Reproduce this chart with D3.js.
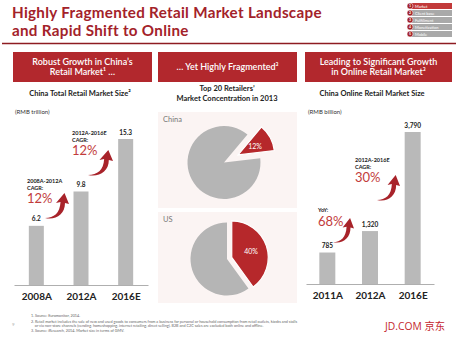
<!DOCTYPE html>
<html>
<head>
<meta charset="utf-8">
<script src="https://cdn.jsdelivr.net/npm/d3@7"></script>
<style>
  html, body { margin: 0; padding: 0; background: #fff; }
  svg { display: block; font-family: Lato, "Open Sans", sans-serif; }
</style>
</head>
<body>
<svg id="chart" width="460" height="359"></svg>
<script>
// ---------- data ----------
const titleLines = ["Highly Fragmented Retail Market Landscape", "and Rapid Shift to Online"];
const navItems = ["Market", "Client base", "Fulfillment", "Monetization", "Mobile"];

const totalCats = ["2008A", "2012A", "2016E"];
const totalValues = [6.2, 9.8, 15.3];
const totalLabels = ["6.2", "9.8", "15.3"];

const onlineCats = ["2011A", "2012A", "2016E"];
const onlineValues = [785, 1320, 3790];
const onlineLabels = ["785", "1,320", "3,790"];

const pieCountries = ["China", "US"];
const top20Share = [12, 40];          // % share of top 20 retailers
const top20Labels = ["12%", "40%"];

const footnotes = [
  "1. Source: Euromonitor, 2014.",
  "2. Retail market includes the sale of new and used goods to consumers from a business for personal or household consumption from retail outlets, kiosks and stalls",
  "    or via non-store channels (vending, homeshopping, internet retailing, direct selling). B2B and C2C sales are excluded both online and offline.",
  "3. Source: iResearch, 2014. Market size in terms of GMV."
];

// ---------- drawing ----------
const svg = d3.select("#chart");
const RED = "#b2282d", DARK_RED = "#a3222a", PCT_RED = "#c23b3b", GRAY = "#b9b9b9";

svg.append("rect").attr("width", 460).attr("height", 359).attr("fill", "#fff");

// Title
svg.selectAll("text.title").data(titleLines).join("text")
  .attr("class", "title")
  .attr("x", 12).attr("y", (d, i) => 18 + i * 18)
  .attr("fill", DARK_RED).attr("font-size", 15.2).attr("font-weight", 700)
  .attr("letter-spacing", 0.3)
  .text(d => d);

svg.append("line").attr("x1", 2).attr("x2", 456).attr("y1", 43.5).attr("y2", 43.5)
  .attr("stroke", "#8e1c22").attr("stroke-width", 1.5);

// Nav
const nav = svg.append("g");
navItems.forEach((t, i) => {
  const y = 3 + i * 7;
  nav.append("rect").attr("x", 411).attr("y", y).attr("width", 41).attr("height", 6)
    .attr("fill", i === 0 ? "#c23a3a" : "#a9a9a9");
  nav.append("circle").attr("cx", 410).attr("cy", y + 3).attr("r", 3)
    .attr("fill", "#a3222a").attr("stroke", "#fff").attr("stroke-width", 0.5);
  nav.append("text").attr("x", 410).attr("y", y + 4.3).attr("text-anchor", "middle")
    .attr("font-size", 3.6).attr("font-weight", 700).attr("fill", "#fff").text(i + 1);
  nav.append("text").attr("x", 415).attr("y", y + 4.5).attr("font-size", 4)
    .attr("fill", "#fff").text(t);
});

// Header boxes
const headers = [
  { x: 13, w: 139, lines: ["Robust Growth in China\u2019s", "Retail Market\u00B9 \u2026"] },
  { x: 158, w: 139, lines: ["\u2026 Yet Highly Fragmented\u00B3"] },
  { x: 305, w: 147, lines: ["Leading to Significant Growth", "in Online Retail Market\u00B3"] }
];
headers.forEach(h => {
  svg.append("rect").attr("x", h.x).attr("y", 52).attr("width", h.w).attr("height", 30).attr("fill", RED);
  const n = h.lines.length;
  h.lines.forEach((l, i) => {
    svg.append("text").attr("x", h.x + h.w / 2)
      .attr("y", 67 + (i - (n - 1) / 2) * 10.5 + 3.2)
      .attr("text-anchor", "middle").attr("fill", "#fff").attr("font-size", 9)
      .attr("font-weight", 600).text(l);
  });
});

// Chart titles
function sub(x, y, t, anchor, size, weight, fill) {
  return svg.append("text").attr("x", x).attr("y", y).attr("text-anchor", anchor || "middle")
    .attr("font-size", size).attr("font-weight", weight || 700).attr("fill", fill || "#222").text(t);
}
sub(80, 96, "China Total Retail Market Size\u00B2", "middle", 7.5);
sub(15, 113.5, "(RMB trillion)", "start", 6, 400, "#333");
sub(227, 91, "Top 20 Retailers\u2019", "middle", 7.5);
sub(227, 101, "Market Concentration in 2013", "middle", 7.5);
sub(372, 96, "China Online Retail Market Size", "middle", 7.5);
sub(308, 113.5, "(RMB billion)", "start", 6, 400, "#333");

// Arrow shape
function arrow(x, y, w, h) {
  const sx = w / 24, sy = h / 25;
  const p = "M0,25 C9,25 15,20 15.5,9 L11,10 L19.5,0 L24,11 L20,10 C20,22 10,27.5 0,25 Z";
  svg.append("path").attr("d", p)
    .attr("transform", `translate(${x},${y}) scale(${sx},${sy})`)
    .attr("fill", "#a8232a");
}

// Bar chart helper
function barChart(cats, vals, labels, xr, y0, yTop, barW) {
  const x = d3.scalePoint().domain(cats).range(xr).padding(0.5);
  const y = d3.scaleLinear().domain([0, d3.max(vals)]).range([y0, yTop]);
  const g = svg.append("g");
  g.selectAll("rect").data(vals).join("rect")
    .attr("x", (d, i) => x(cats[i]) - barW / 2).attr("y", d => y(d))
    .attr("width", barW).attr("height", d => y0 - y(d)).attr("fill", GRAY);
  g.selectAll("text.val").data(vals).join("text").attr("class", "val")
    .attr("x", (d, i) => x(cats[i])).attr("y", d => y(d) - 4.5)
    .attr("text-anchor", "middle").attr("font-size", 6.5).attr("font-weight", 700)
    .attr("fill", "#222").text((d, i) => labels[i]);
  const ax = svg.append("g").attr("transform", `translate(0,${y0})`)
    .call(d3.axisBottom(x).tickSize(0).tickPadding(8));
  ax.select(".domain").attr("stroke", "#9a9a9a").attr("stroke-width", 0.8);
  ax.selectAll("text").attr("font-size", 10).attr("font-weight", 700)
    .attr("fill", "#222").attr("font-family", "Lato, sans-serif");
  return { x, y };
}

barChart(totalCats, totalValues, totalLabels, [14, 148], 285, 139, 15);
barChart(onlineCats, onlineValues, onlineLabels, [306, 434], 284, 132, 16);

// Annotations left
function annot(x, y, l1, l2, big) {
  sub(x, y, l1, "start", 5.5, 700, "#222");
  sub(x, y + 7, l2, "start", 5.5, 700, "#222");
  if (big) sub(x, y + 20, big, "start", 13, 400, PCT_RED);
}
annot(27, 183, "2008A-2012A", "CAGR:", "12%");
annot(72, 135, "2012A-2016E", "CAGR:", "12%");
arrow(45, 193, 24, 25);
arrow(88, 150, 25, 25);

// Annotations right
sub(318, 212, "YoY:", "start", 5.5, 700, "#222");
sub(318, 226, "68%", "start", 13, 400, PCT_RED);
annot(355, 162, "2012A-2016E", "CAGR:", "30%");
arrow(333, 218, 21, 24);
arrow(377, 175, 23, 25);

// Pie panels
const panels = [
  { y: 112, h: 96, cx: 224, cy: 162.5, start: 40 * Math.PI / 180, off: 16 },
  { y: 212, h: 91, cx: 227, cy: 259, start: 0, off: 5 }
];
const arc = d3.arc().innerRadius(0).outerRadius(36.5);
panels.forEach((p, i) => {
  svg.append("rect").attr("x", 158).attr("y", p.y).attr("width", 139).attr("height", p.h)
    .attr("fill", "#fbf4f3");
  sub(163, p.y + 10, pieCountries[i], "start", 7.5, 400, "#777");
  const share = top20Share[i];
  const pie = d3.pie().sort(null).startAngle(p.start).endAngle(p.start + 2 * Math.PI);
  const slices = pie([share, 100 - share]);
  const g = svg.append("g").attr("transform", `translate(${p.cx},${p.cy})`);
  slices.forEach((s, j) => {
    const mid = (s.startAngle + s.endAngle) / 2;
    const dx = j === 0 ? Math.sin(mid) * p.off : 0;
    const dy = j === 0 ? -Math.cos(mid) * p.off : 0;
    g.append("path").attr("d", arc(s)).attr("transform", `translate(${dx},${dy})`)
      .attr("fill", j === 0 ? "#b6282b" : "#b5b5b5")
      .attr("stroke", j === 0 ? "#fff" : "none").attr("stroke-width", 1.2);
    if (j === 0) {
      const c = arc.centroid(s);
      g.append("text").attr("x", c[0] + dx + (i === 0 ? 1 : 2)).attr("y", c[1] + dy + 2.5)
        .attr("text-anchor", "middle").attr("font-size", 7).attr("fill", "#fff")
        .text(top20Labels[i]);
    }
  });
});

// Footnotes
svg.selectAll("text.fn").data(footnotes).join("text").attr("class", "fn")
  .attr("x", 31).attr("y", (d, i) => [316.5, 322.5, 326.5, 331.5][i])
  .attr("font-size", 3.75).attr("fill", "#666").attr("xml:space", "preserve")
  .style("white-space", "pre").text(d => d);
sub(12, 326, "9", "start", 4.5, 400, "#aaa");

// Logo
svg.append("text").attr("x", 385).attr("y", 330).attr("font-size", 10.5)
  .attr("fill", "#c4262e").attr("font-family", "'Open Sans', 'Noto Sans CJK SC', sans-serif")
  .attr("textLength", 60).attr("lengthAdjust", "spacingAndGlyphs")
  .text("JD.COM \u4EAC\u4E1C");
</script>
</body>
</html>
